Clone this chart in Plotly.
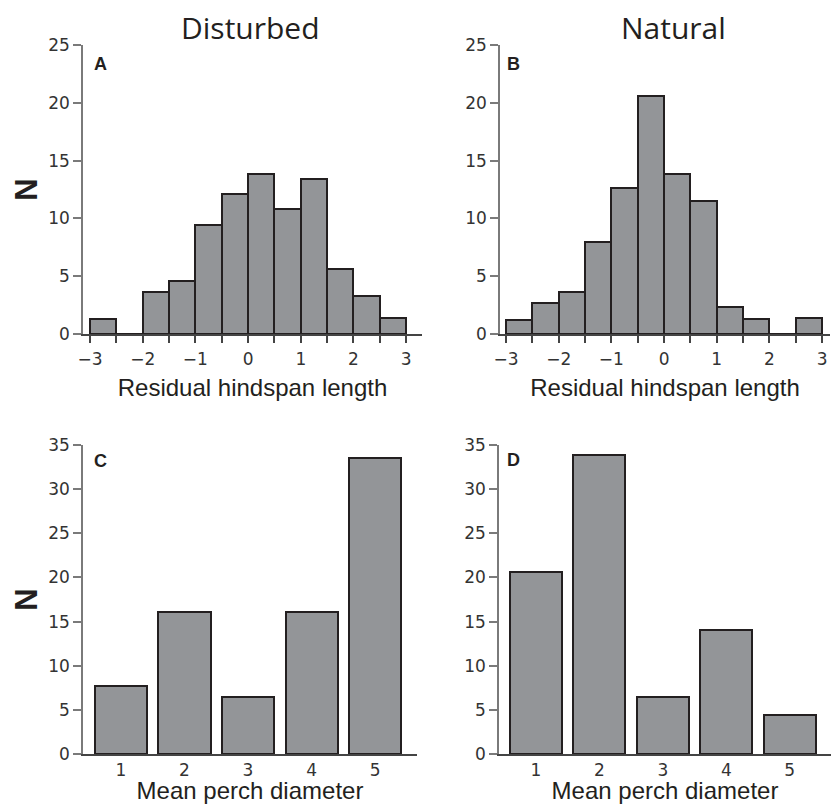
import plotly.graph_objects as go

# ---- data ----
bin_left = [-3.0, -2.5, -2.0, -1.5, -1.0, -0.5, 0.0, 0.5, 1.0, 1.5, 2.0, 2.5]
bin_width = 0.5
disturbed_hindspan = [1.3, 0, 3.6, 4.6, 9.4, 12.1, 13.8, 10.8, 13.4, 5.6, 3.3, 1.4]
natural_hindspan = [1.2, 2.7, 3.6, 8.0, 12.6, 20.6, 13.8, 11.5, 2.3, 1.3, 0, 1.4]

perch_cats = [1, 2, 3, 4, 5]
disturbed_perch = [7.7, 16.1, 6.5, 16.1, 33.5]
natural_perch = [20.6, 33.9, 6.5, 14.0, 4.4]

hind_tickvals = [-3, -2.5, -2, -1.5, -1, -0.5, 0, 0.5, 1, 1.5, 2, 2.5, 3]
hind_ticktext = ["\u22123", "", "\u22122", "", "\u22121", "", "0", "", "1", "", "2", "", "3"]

W, H = 832, 804
TITLE_FONT = "Open Sans"
TICK_FONT = "DejaVu Sans"
LABEL_FONT = "Liberation Sans"
BAR_FILL = "#939598"
BAR_LINE = "#231f20"
TXT = "#231f20"

bin_centers = [b + bin_width / 2 for b in bin_left]

fig = go.Figure()

def px_x(a, b):
    return [a / W, b / W]

def px_y(top, bottom):
    return [1 - bottom / H, 1 - top / H]

def pt(x, y):
    return x / W, 1 - y / H

bar_style = dict(marker=dict(color=BAR_FILL, line=dict(color=BAR_LINE, width=2)), showlegend=False, hoverinfo="x+y")

fig.add_trace(go.Bar(x=bin_centers, y=disturbed_hindspan, width=bin_width, xaxis="x", yaxis="y", **bar_style))
fig.add_trace(go.Bar(x=bin_centers, y=natural_hindspan, width=bin_width, xaxis="x2", yaxis="y2", **bar_style))
fig.add_trace(go.Bar(x=perch_cats, y=disturbed_perch, width=0.82, xaxis="x3", yaxis="y3", **bar_style))
fig.add_trace(go.Bar(x=perch_cats, y=natural_perch, width=0.82, xaxis="x4", yaxis="y4", **bar_style))

tickfont = dict(family=TICK_FONT, size=17, color="#333333")
xtitle_font = dict(family=LABEL_FONT, size=24, color=TXT)
ytitle_font = dict(family=LABEL_FONT, size=31, color=TXT, weight="bold")

def xaxis_hist(domain, rng):
    return dict(domain=domain, range=rng, showline=True, linecolor="#444444", linewidth=1.5,
                showgrid=False, zeroline=False, ticks="outside", ticklen=7, tickwidth=1.5,
                tickcolor="#444444", tickvals=hind_tickvals, ticktext=hind_ticktext,
                tickfont=tickfont, ticklabelstandoff=2, automargin=False,
                title=dict(text="Residual hindspan length", font=xtitle_font, standoff=11))

def xaxis_perch(domain, rng):
    return dict(domain=domain, range=rng, showline=True, linecolor="#444444", linewidth=1.5,
                showgrid=False, zeroline=False, ticks="", tickvals=perch_cats,
                ticktext=[str(c) for c in perch_cats], tickfont=tickfont, ticklabelstandoff=0,
                automargin=False,
                title=dict(text="Mean perch diameter", font=xtitle_font, standoff=7))

def yaxis(domain, rng, dtick, title):
    return dict(domain=domain, range=rng, showline=True, linecolor="#7a7a7a", linewidth=1.5,
                showgrid=False, zeroline=False, ticks="outside", ticklen=8, tickwidth=1.5,
                tickcolor="#7a7a7a", dtick=dtick, tick0=0, tickfont=tickfont, automargin=False,
                title=dict(text=title, font=ytitle_font, standoff=1))

fig.update_layout(
    template="none",
    width=W, height=H, margin=dict(l=0, r=0, t=0, b=0, autoexpand=False),
    paper_bgcolor="white", plot_bgcolor="white", bargap=0,
    font=dict(family=TITLE_FONT, color=TXT),
    xaxis=dict(anchor="y", **xaxis_hist(px_x(83, 422), [-3.133, 3.30])),
    yaxis=dict(anchor="x", **yaxis(px_y(45, 334), [0, 25], 5, "N")),
    xaxis2=dict(anchor="y2", **xaxis_hist(px_x(500, 830), [-3.114, 3.15])),
    yaxis2=dict(anchor="x2", **yaxis(px_y(45, 334), [0, 25], 5, "")),
    xaxis3=dict(anchor="y3", **xaxis_perch(px_x(83, 417), [0.402, 5.66])),
    yaxis3=dict(anchor="x3", **yaxis(px_y(445, 754), [0, 35], 5, "N")),
    xaxis4=dict(anchor="y4", **xaxis_perch(px_x(499, 831), [0.417, 5.65])),
    yaxis4=dict(anchor="x4", **yaxis(px_y(445, 754), [0, 35], 5, "")),
)

annos = [
    ("Disturbed", 250, 27, 30, TITLE_FONT),
    ("Natural", 673, 27, 30, TITLE_FONT),
    ("<b>A</b>", 100, 64, 18, LABEL_FONT),
    ("<b>B</b>", 513, 64, 18, LABEL_FONT),
    ("<b>C</b>", 100, 461, 18, LABEL_FONT),
    ("<b>D</b>", 513, 460, 18, LABEL_FONT),
]
for text, x, y, size, fam in annos:
    ax, ay = pt(x, y)
    fig.add_annotation(text=text, x=ax, y=ay, xref="paper", yref="paper",
                       xanchor="center", yanchor="middle", showarrow=False,
                       font=dict(family=fam, size=size, color=TXT))

# remove the browser's default body margin so the 832x804 figure fills the window exactly
fig.write_html("out.html", config={"displayModeBar": False},
               post_script="document.body.style.margin='0';document.body.style.overflow='hidden';")
